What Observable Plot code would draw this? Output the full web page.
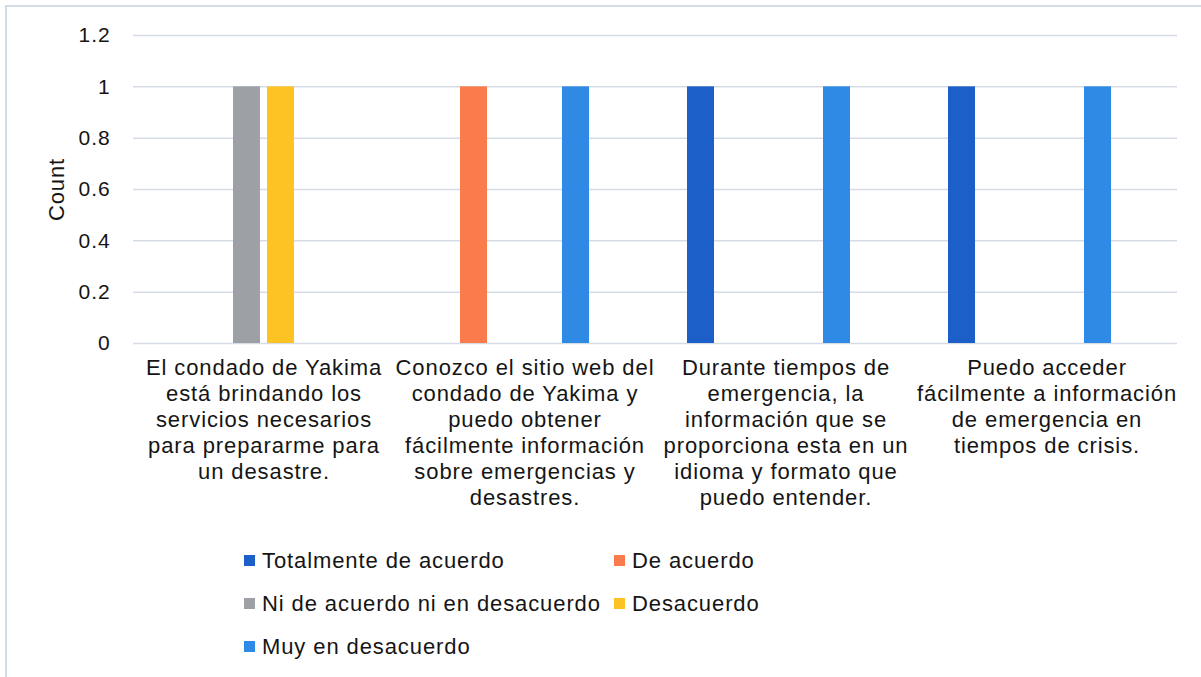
<!DOCTYPE html>
<html>
<head>
<meta charset="utf-8">
<script src="https://cdn.jsdelivr.net/npm/d3@7"></script>
<script src="https://cdn.jsdelivr.net/npm/@observablehq/plot@0.6"></script>
<style>
  html, body { margin: 0; padding: 0; background: #fff; overflow: hidden; }
  #wrap { position: relative; width: 1201px; height: 677px; font-family: "Liberation Sans", Arial, sans-serif; }
  #frame { position: absolute; left: 5px; top: 5px; width: 1300px; height: 800px; border-top: 2px solid #d3dbe6; border-left: 2px solid #d3dbe6; }
  #chart { position: absolute; left: 0; top: 0; }
  #chart svg text { letter-spacing: 0.9px; }
  #legend { position: absolute; left: 244px; top: 539px; display: grid; grid-template-columns: 370px auto; grid-auto-rows: 43px; font-size: 22px; letter-spacing: 0.9px; color: #151515; }
  .item { display: flex; align-items: center; height: 43px; }
  .sw { width: 11px; height: 11px; margin-right: 7px; display: inline-block; }
</style>
</head>
<body>
<div id="wrap">
  <div id="frame"></div>
  <div id="chart"></div>
  <div id="legend"></div>
</div>
<script>
const categories = [
  "El condado de Yakima\nestá brindando los\nservicios necesarios\npara prepararme para\nun desastre.",
  "Conozco el sitio web del\ncondado de Yakima y\npuedo obtener\nfácilmente información\nsobre emergencias y\ndesastres.",
  "Durante tiempos de\nemergencia, la\ninformación que se\nproporciona esta en un\nidioma y formato que\npuedo entender.",
  "Puedo acceder\nfácilmente a información\nde emergencia en\ntiempos de crisis."
];
const series = ["Totalmente de acuerdo", "De acuerdo", "Ni de acuerdo ni en desacuerdo", "Desacuerdo", "Muy en desacuerdo"];
const colors = ["#1c5fc9", "#fa7b4b", "#9da1a5", "#fdc324", "#2f8ae6"];
const totalmenteDeAcuerdo = [0, 0, 1, 1];
const deAcuerdo = [0, 1, 0, 0];
const niDeAcuerdo = [1, 0, 0, 0];
const desacuerdo = [1, 0, 0, 0];
const muyEnDesacuerdo = [0, 1, 1, 1];
const yTicks = [0, 0.2, 0.4, 0.6, 0.8, 1, 1.2];
const yLabel = "Count";

const seriesValues = [totalmenteDeAcuerdo, deAcuerdo, niDeAcuerdo, desacuerdo, muyEnDesacuerdo];
const rows = [];
series.forEach((s, i) => categories.forEach((c, j) => {
  if (seriesValues[i][j] > 0) rows.push({category: c, series: s, value: seriesValues[i][j]});
}));

const chart = Plot.plot({
  width: 1201,
  height: 525,
  marginLeft: 132,
  marginRight: 23,
  marginTop: 35,
  marginBottom: 182,
  style: {fontFamily: "'Liberation Sans', Arial, sans-serif", color: "#151515", background: "transparent"},
  fx: {domain: categories, padding: 0},
  x: {domain: [...series, " "], paddingInner: 0.2, paddingOuter: 0.89, axis: null},
  y: {domain: [0, 1.2], ticks: yTicks},
  color: {domain: series, range: colors},
  marks: [
    Plot.gridY(yTicks, {stroke: "#d6dce6", strokeOpacity: 1, strokeWidth: 1.5}),
    Plot.axisY(yTicks, {tickSize: 0, tickPadding: 23, fontSize: 21, tickFormat: d => String(+d.toFixed(1)), label: null}),
    Plot.text([yLabel], {fx: () => categories[0], frameAnchor: "left", dx: -77, rotate: -90, fontSize: 22, lineAnchor: "middle", textAnchor: "middle", fill: "#151515"}),
    Plot.axisFx({anchor: "bottom", tickSize: 0, tickPadding: 13, fontSize: 22, lineHeight: 26 / 22, label: null, tickFormat: d => d}),
    Plot.barY(rows, {fx: "category", x: "series", y: "value", fill: "series"})
  ]
});
document.getElementById("chart").appendChild(chart);

const legend = document.getElementById("legend");
series.forEach((s, i) => {
  const d = document.createElement("div");
  d.className = "item";
  d.innerHTML = `<span class="sw" style="background:${colors[i]}"></span><span>${s}</span>`;
  legend.appendChild(d);
});
</script>
</body>
</html>
